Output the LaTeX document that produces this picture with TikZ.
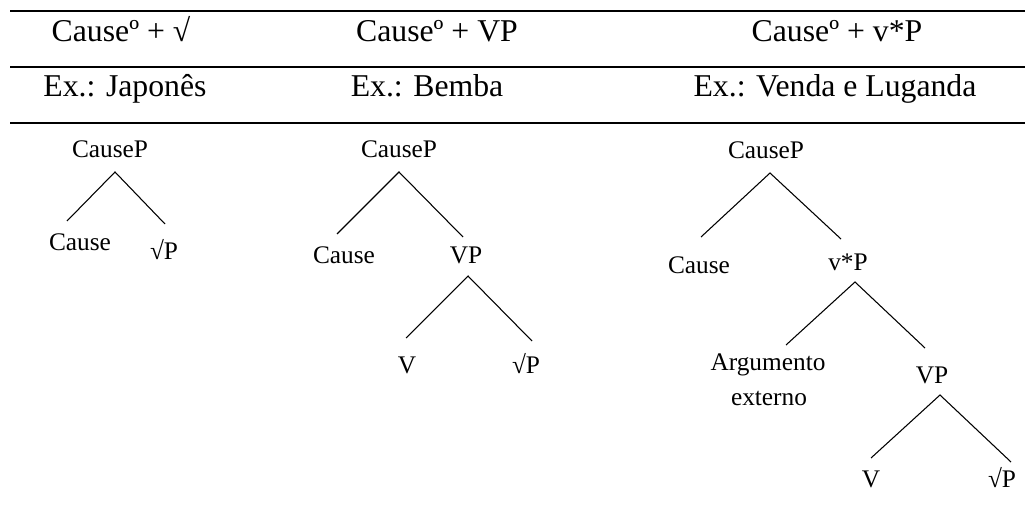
\documentclass[tikz,border=0pt]{standalone}
\usepackage{fontspec}
\setmainfont{Liberation Serif}
\begin{document}
\begin{tikzpicture}[x=0.75pt,y=-0.75pt,
  headtext/.style={anchor=base, inner sep=0pt, font=\fontsize{23.8}{28}\selectfont},
  treelabel/.style={anchor=base, inner sep=0pt, font=\fontsize{19}{23}\selectfont},
  tablerule/.style={line width=1.5pt},
  branch/.style={line width=0.8pt}]
\useasboundingbox (0,0) rectangle (1025,531);

% table rules
\draw[tablerule] (10,11) -- (1025,11);
\draw[tablerule] (10,67) -- (1025,67);
\draw[tablerule] (10,123) -- (1025,123);

% header rows
\node[headtext] (h1a) at (121,42) {Causeº + √};
\node[headtext] (h2a) at (437,42) {Causeº + VP};
\node[headtext] (h3a) at (837,42) {Causeº + v*P};
\node[headtext] (h1b) at (125,97) {Ex.: Japonês};
\node[headtext] (h2b) at (427,97) {Ex.: Bemba};
\node[headtext] (h3b) at (835,97) {Ex.: Venda e Luganda};

% tree 1: Cause + root
\node[treelabel] (t1p) at (110,158) {CauseP};
\node[treelabel] (t1c) at (80,250) {Cause};
\node[treelabel] (t1r) at (164,259) {√P};
\coordinate (t1top) at (115,172);
\coordinate (t1l) at (67,221);
\coordinate (t1rr) at (165,224);
\draw[branch] (t1l) -- (t1top) -- (t1rr);

% tree 2: Cause + VP
\node[treelabel] (t2p) at (399,158) {CauseP};
\node[treelabel] (t2c) at (344,263) {Cause};
\node[treelabel] (t2vp) at (466,263) {VP};
\node[treelabel] (t2v) at (407,373) {V};
\node[treelabel] (t2r) at (526,373) {√P};
\coordinate (t2top) at (399,172);
\coordinate (t2l) at (337,234);
\coordinate (t2rr) at (463,237);
\coordinate (t2vtop) at (468,276);
\coordinate (t2vl) at (406,338);
\coordinate (t2vr) at (532,341);
\draw[branch] (t2l) -- (t2top) -- (t2rr);
\draw[branch] (t2vl) -- (t2vtop) -- (t2vr);

% tree 3: Cause + v*P
\node[treelabel] (t3p) at (766,159) {CauseP};
\node[treelabel] (t3c) at (699,273) {Cause};
\node[treelabel] (t3vs) at (848,270) {v*P};
\node[treelabel] (t3a1) at (768,370) {Argumento};
\node[treelabel] (t3a2) at (769,405) {externo};
\node[treelabel] (t3vp) at (932,383) {VP};
\node[treelabel] (t3v) at (871,487) {V};
\node[treelabel] (t3r) at (1002,487) {√P};
\coordinate (t3top) at (770,173);
\coordinate (t3l) at (701,237);
\coordinate (t3rr) at (841,239);
\coordinate (t3stop) at (855,282);
\coordinate (t3sl) at (786,345);
\coordinate (t3sr) at (925,348);
\coordinate (t3vtop) at (940,395);
\coordinate (t3vl) at (871,458);
\coordinate (t3vr) at (1011,462);
\draw[branch] (t3l) -- (t3top) -- (t3rr);
\draw[branch] (t3sl) -- (t3stop) -- (t3sr);
\draw[branch] (t3vl) -- (t3vtop) -- (t3vr);
\end{tikzpicture}
\end{document}
